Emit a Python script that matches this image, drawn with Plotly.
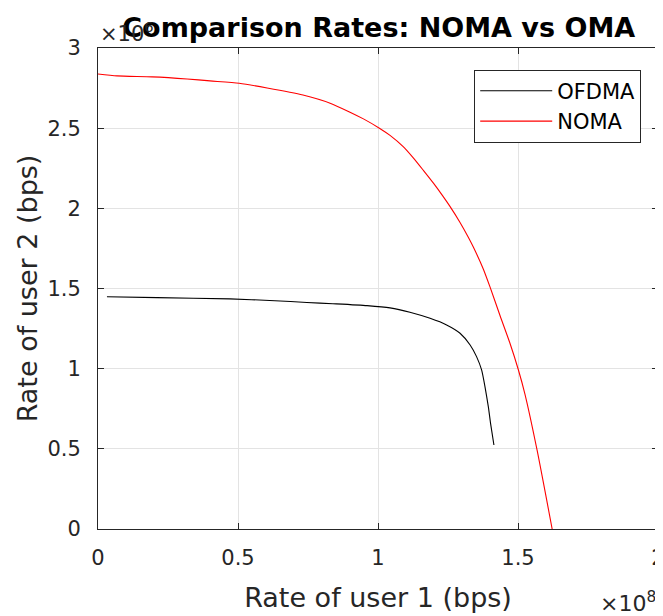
import plotly.graph_objects as go

# OFDMA curve (x in bps, y in bps)
ofdma_x = [0.032e8, 0.211e8, 0.471e8, 0.632e8, 0.746e8, 0.839e8, 0.961e8, 1.043e8, 1.114e8,
           1.186e8, 1.245e8, 1.293e8, 1.329e8, 1.352e8, 1.37e8, 1.382e8, 1.394e8, 1.402e8, 1.414e8]
ofdma_y = [1.449e6, 1.443e6, 1.435e6, 1.424e6, 1.413e6, 1.405e6, 1.393e6, 1.379e6, 1.352e6,
           1.314e6, 1.273e6, 1.221e6, 1.148e6, 1.075e6, 0.992e6, 0.888e6, 0.763e6, 0.659e6, 0.524e6]

# NOMA curve
noma_x = [0.0, 0.068e8, 0.193e8, 0.318e8, 0.4e8, 0.504e8, 0.604e8, 0.732e8, 0.829e8, 0.9e8,
          0.948e8, 1.005e8, 1.043e8, 1.09e8, 1.126e8, 1.162e8, 1.198e8, 1.233e8, 1.257e8,
          1.293e8, 1.323e8, 1.34e8, 1.376e8, 1.4e8, 1.436e8, 1.471e8, 1.501e8, 1.525e8,
          1.568e8, 1.622e8]
noma_y = [2.838e6, 2.826e6, 2.82e6, 2.807e6, 2.795e6, 2.78e6, 2.751e6, 2.707e6, 2.656e6, 2.60e6,
          2.558e6, 2.50e6, 2.455e6, 2.385e6, 2.315e6, 2.237e6, 2.157e6, 2.073e6, 2.012e6,
          1.912e6, 1.818e6, 1.76e6, 1.622e6, 1.51e6, 1.33e6, 1.16e6, 0.995e6, 0.84e6,
          0.493e6, 0.0]

x_tickvals = [0, 0.5e8, 1e8, 1.5e8, 2e8]
x_ticktext = ["0", "0.5", "1", "1.5", "2"]
y_tickvals = [0, 0.5e6, 1e6, 1.5e6, 2e6, 2.5e6, 3e6]
y_ticktext = ["0", "0.5", "1", "1.5", "2", "2.5", "3"]

FONT = "DejaVu Sans"
AX = "#262626"

fig = go.Figure()
fig.add_trace(go.Scatter(x=ofdma_x, y=ofdma_y, mode="lines", name="OFDMA",
                         line=dict(color="black", width=1.1, shape="spline", smoothing=0.6)))
fig.add_trace(go.Scatter(x=noma_x, y=noma_y, mode="lines", name="NOMA",
                         line=dict(color="red", width=1.1, shape="spline", smoothing=0.6)))

axis_common = dict(showline=True, linecolor=AX, linewidth=1, mirror="ticks",
                   ticks="inside", ticklen=6, tickcolor=AX, showgrid=True,
                   gridcolor="#e3e3e3", gridwidth=1, zeroline=False, automargin=False,
                   ticklabeloverflow="allow",
                   tickfont=dict(family=FONT, size=21, color=AX))

fig.update_layout(
    width=655, height=608,
    margin=dict(l=90, r=5, t=40, b=87, autoexpand=False),
    paper_bgcolor="white", plot_bgcolor="white",
    font=dict(family=FONT, color=AX),
    title=dict(text="<b>Comparison Rates: NOMA vs OMA</b>", x=0.566, xanchor="center",
               y=1 - 20 / 608, yanchor="middle",
               font=dict(family=FONT, size=27, color="black")),
    xaxis=dict(range=[0, 2e8], tickvals=x_tickvals, ticktext=x_ticktext,
               ticklabelstandoff=10,
               title=dict(text="Rate of user 1 (bps)", font=dict(family=FONT, size=27, color=AX),
                          standoff=18),
               **axis_common),
    yaxis=dict(range=[0, 3e6], tickvals=y_tickvals, ticktext=y_ticktext,
               ticklabelstandoff=12,
               title=dict(text="Rate of user 2 (bps)", font=dict(family=FONT, size=27, color=AX),
                          standoff=1),
               **axis_common),
    legend=dict(x=0.97, y=0.955, xanchor="right", yanchor="top",
                bgcolor="white", bordercolor=AX, borderwidth=1,
                font=dict(family=FONT, size=21, color="black"),
                itemwidth=72, tracegroupgap=0),
    showlegend=True,
)

fig.add_annotation(text="×10<sup>6</sup>", xref="paper", yref="paper", x=0, y=1,
                   xanchor="left", yanchor="bottom", yshift=0, showarrow=False,
                   font=dict(family=FONT, size=21, color=AX))
fig.add_annotation(text="×10<sup>8</sup>", xref="paper", yref="paper", x=1, y=0,
                   xanchor="right", yanchor="bottom", xshift=0, yshift=-89, showarrow=False,
                   font=dict(family=FONT, size=22, color=AX))

fig.write_html("out.html")
